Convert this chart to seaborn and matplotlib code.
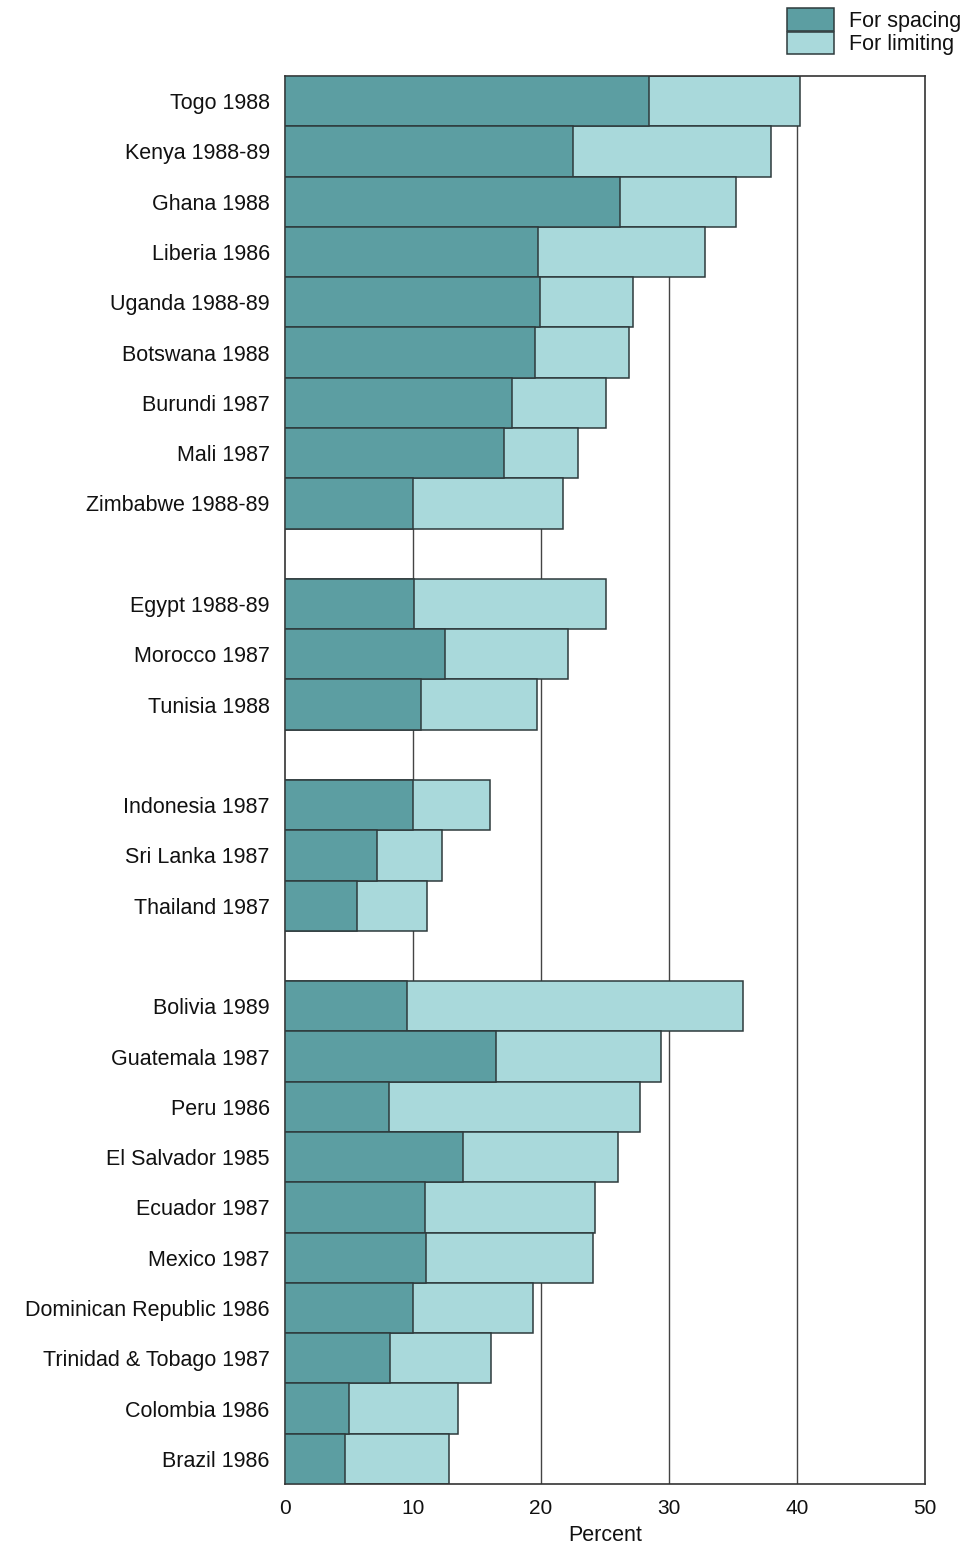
import numpy as np
import pandas as pd
import matplotlib
matplotlib.use("Agg")
import matplotlib.pyplot as plt
import seaborn as sns
from matplotlib.patches import Patch

# values (percent of married women)
countries = ["Togo 1988", "Kenya 1988-89", "Ghana 1988", "Liberia 1986", "Uganda 1988-89",
             "Botswana 1988", "Burundi 1987", "Mali 1987", "Zimbabwe 1988-89",
             "Egypt 1988-89", "Morocco 1987", "Tunisia 1988",
             "Indonesia 1987", "Sri Lanka 1987", "Thailand 1987",
             "Bolivia 1989", "Guatemala 1987", "Peru 1986", "El Salvador 1985", "Ecuador 1987",
             "Mexico 1987", "Dominican Republic 1986", "Trinidad & Tobago 1987",
             "Colombia 1986", "Brazil 1986"]
spacing = [28.4, 22.5, 26.2, 19.8, 19.9, 19.5, 17.7, 17.1, 10.0,
           10.1, 12.5, 10.6,
           10.0, 7.2, 5.6,
           9.5, 16.5, 8.1, 13.9, 10.9, 11.0, 10.0, 8.2, 5.0, 4.7]
limiting = [11.8, 15.5, 9.0, 13.0, 7.3, 7.4, 7.4, 5.8, 11.7,
            15.0, 9.6, 9.1,
            6.0, 5.1, 5.5,
            26.3, 12.9, 19.6, 12.1, 13.3, 13.1, 9.4, 7.9, 8.5, 8.1]
group_sizes = [9, 3, 3, 10]
xticks = [0, 10, 20, 30, 40, 50]

df = pd.DataFrame({"country": countries, "spacing": spacing, "limiting": limiting})
df["total"] = df["spacing"] + df["limiting"]

# blank slots between regional groups
order = []
pos = 0
for i, n in enumerate(group_sizes):
    order += countries[pos:pos + n]
    pos += n
    if i < len(group_sizes) - 1:
        order.append(" " * (i + 1))

dark = "#5c9ea2"
light = "#a9d9db"
edge = "#2e3a3c"
txt = "#111111"

sns.set_theme(style="white")
plt.rcParams["font.family"] = ["Liberation Sans", "DejaVu Sans"]

fig = plt.figure(figsize=(9.74, 15.51), dpi=100)
ax = fig.add_axes([285 / 974, (1551 - 1484) / 1551, 640 / 974, (1484 - 76) / 1551])

for x in xticks[1:-1]:
    ax.axvline(x, color="#444444", lw=1.0, zorder=0)

sns.barplot(data=df, y="country", x="total", order=order, orient="h", width=1.0,
            color=light, edgecolor=edge, linewidth=1.1, saturation=1, ax=ax, zorder=2)
sns.barplot(data=df, y="country", x="spacing", order=order, orient="h", width=1.0,
            color=dark, edgecolor=edge, linewidth=1.1, saturation=1, ax=ax, zorder=3)

ax.set_xlim(0, 50)
ax.set_ylim(len(order) - 0.5, -0.5)
ax.set_xticks(xticks)
ax.set_xticklabels([str(t) for t in xticks], fontsize=15, color=txt)
ax.tick_params(axis="y", labelsize=15.5, labelcolor=txt, length=0, pad=11)
ax.tick_params(axis="x", length=0, pad=11)
ax.set_ylabel("")
ax.set_xlabel("Percent", fontsize=15.5, color=txt, labelpad=5)
for s in ax.spines.values():
    s.set_visible(True)
    s.set_color("#333333")
    s.set_linewidth(1.2)

handles = [Patch(facecolor=dark, edgecolor=edge, lw=1.1, label="For spacing"),
           Patch(facecolor=light, edgecolor=edge, lw=1.1, label="For limiting")]
fig.legend(handles=handles, loc="upper left", bbox_to_anchor=(787 / 974, 1 - 8 / 1551),
           frameon=False, fontsize=15.5, handlelength=2.2, handleheight=1.25,
           labelspacing=0.0, handletextpad=0.7, borderpad=0, borderaxespad=0,
           labelcolor=txt)

fig.savefig("out.png", dpi=100)
